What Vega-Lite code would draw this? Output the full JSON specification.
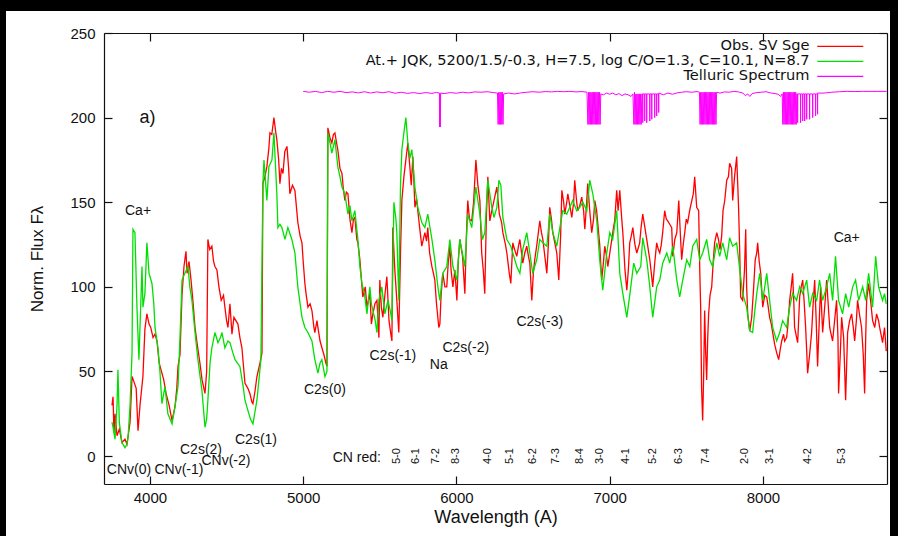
{
  "$schema": "https://vega.github.io/schema/vega-lite/v6.json",
  "width": 884,
  "height": 525,
  "autosize": "none",
  "padding": {"left": 6, "top": 11, "right": 8, "bottom": 0},
  "background": "black",
  "config": {
    "font": "Liberation Sans",
    "view": {"fill": "white", "stroke": null}
  },
  "datasets": {
    "obs": [
      {"w":3752,"f":30},{"w":3759,"f":35},{"w":3765,"f":14},{"w":3772,"f":25},{"w":3785,"f":12},{"w":3800,"f":16},{"w":3817,"f":8},{"w":3837,"f":10},{"w":3850,"f":7},{"w":3870,"f":20},{"w":3883,"f":47},{"w":3895,"f":44},{"w":3910,"f":40},{"w":3922,"f":15},{"w":3935,"f":30},{"w":3954,"f":47},{"w":3967,"f":75},{"w":3980,"f":84},{"w":3994,"f":78},{"w":4005,"f":76},{"w":4020,"f":70},{"w":4033,"f":72},{"w":4046,"f":68},{"w":4060,"f":55},{"w":4078,"f":49},{"w":4090,"f":45},{"w":4105,"f":37},{"w":4125,"f":30},{"w":4144,"f":21},{"w":4163,"f":29},{"w":4175,"f":40},{"w":4183,"f":53},{"w":4196,"f":60},{"w":4209,"f":95},{"w":4222,"f":112},{"w":4235,"f":121},{"w":4242,"f":108},{"w":4255,"f":115},{"w":4268,"f":104},{"w":4280,"f":92},{"w":4294,"f":76},{"w":4310,"f":65},{"w":4326,"f":55},{"w":4340,"f":45},{"w":4359,"f":37},{"w":4370,"f":50},{"w":4378,"f":128},{"w":4390,"f":122},{"w":4404,"f":124},{"w":4415,"f":115},{"w":4424,"f":112},{"w":4437,"f":110},{"w":4450,"f":100},{"w":4465,"f":92},{"w":4480,"f":95},{"w":4489,"f":88},{"w":4500,"f":80},{"w":4509,"f":76},{"w":4522,"f":90},{"w":4535,"f":72},{"w":4548,"f":82},{"w":4574,"f":78},{"w":4587,"f":70},{"w":4600,"f":64},{"w":4620,"f":43},{"w":4639,"f":40},{"w":4652,"f":37},{"w":4665,"f":32},{"w":4672,"f":31},{"w":4685,"f":38},{"w":4698,"f":47},{"w":4718,"f":55},{"w":4731,"f":61},
      {"w":4737,"f":161},{"w":4750,"f":165},{"w":4763,"f":171},{"w":4776,"f":182},{"w":4783,"f":191},{"w":4795,"f":190},{"w":4809,"f":200},{"w":4820,"f":192},{"w":4828,"f":187},{"w":4840,"f":175},{"w":4848,"f":161},{"w":4858,"f":170},{"w":4868,"f":167},{"w":4880,"f":180},{"w":4894,"f":183},{"w":4905,"f":170},{"w":4913,"f":155},{"w":4930,"f":160},{"w":4946,"f":157},{"w":4955,"f":148},{"w":4965,"f":138},{"w":4980,"f":130},{"w":4992,"f":126},{"w":5000,"f":115},{"w":5011,"f":102},{"w":5020,"f":95},{"w":5031,"f":88},{"w":5045,"f":90},{"w":5057,"f":86},{"w":5070,"f":76},{"w":5076,"f":73},{"w":5090,"f":80},{"w":5096,"f":76},{"w":5110,"f":68},{"w":5122,"f":64},{"w":5135,"f":60},{"w":5148,"f":55},{"w":5155,"f":53},
      {"w":5161,"f":194},{"w":5175,"f":188},{"w":5187,"f":185},{"w":5197,"f":190},{"w":5207,"f":191},{"w":5218,"f":185},{"w":5226,"f":181},{"w":5240,"f":170},{"w":5253,"f":167},{"w":5262,"f":158},{"w":5272,"f":151},{"w":5282,"f":156},{"w":5292,"f":155},{"w":5305,"f":140},{"w":5318,"f":132},{"w":5328,"f":140},{"w":5337,"f":141},{"w":5350,"f":128},{"w":5357,"f":126},{"w":5370,"f":116},{"w":5389,"f":94},{"w":5405,"f":100},{"w":5416,"f":88},{"w":5435,"f":96},{"w":5445,"f":78},{"w":5455,"f":84},{"w":5468,"f":90},{"w":5481,"f":92},{"w":5494,"f":70},{"w":5500,"f":104},{"w":5510,"f":88},{"w":5520,"f":82},{"w":5533,"f":95},{"w":5546,"f":106},{"w":5560,"f":80},{"w":5572,"f":72},{"w":5579,"f":68},{"w":5585,"f":135},{"w":5598,"f":110},{"w":5611,"f":92},{"w":5624,"f":73},{"w":5635,"f":120},{"w":5644,"f":151},{"w":5657,"f":165},{"w":5670,"f":175},{"w":5683,"f":185},{"w":5696,"f":171},{"w":5705,"f":160},{"w":5716,"f":177},{"w":5729,"f":147},{"w":5740,"f":152},{"w":5748,"f":145},{"w":5760,"f":135},{"w":5774,"f":124},{"w":5784,"f":128},{"w":5794,"f":132},{"w":5805,"f":127},{"w":5813,"f":135},{"w":5825,"f":120},{"w":5840,"f":112},{"w":5850,"f":108},{"w":5859,"f":104},{"w":5870,"f":90},{"w":5885,"f":76},{"w":5892,"f":78},{"w":5900,"f":95},{"w":5911,"f":108},{"w":5925,"f":100},{"w":5937,"f":100},{"w":5947,"f":115},{"w":5957,"f":124},{"w":5965,"f":110},{"w":5977,"f":100},{"w":5990,"f":110},{"w":6003,"f":92},{"w":6012,"f":115},{"w":6022,"f":128},{"w":6040,"f":118},{"w":6055,"f":96},{"w":6065,"f":130},{"w":6074,"f":151},{"w":6085,"f":140},{"w":6100,"f":139},{"w":6112,"f":150},{"w":6127,"f":175},{"w":6140,"f":160},{"w":6153,"f":151},{"w":6165,"f":120},{"w":6175,"f":110},{"w":6185,"f":96},{"w":6195,"f":140},{"w":6205,"f":165},{"w":6218,"f":139},{"w":6231,"f":145},{"w":6245,"f":151},{"w":6264,"f":159},{"w":6280,"f":143},{"w":6295,"f":138},{"w":6303,"f":132},{"w":6320,"f":125},{"w":6329,"f":120},{"w":6345,"f":108},{"w":6355,"f":102},{"w":6368,"f":126},{"w":6380,"f":122},{"w":6394,"f":118},{"w":6405,"f":124},{"w":6414,"f":128},{"w":6425,"f":120},{"w":6433,"f":114},{"w":6446,"f":120},{"w":6459,"f":124},{"w":6470,"f":118},{"w":6479,"f":114},{"w":6492,"f":92},{"w":6502,"f":108},{"w":6511,"f":116},{"w":6525,"f":125},{"w":6544,"f":139},{"w":6555,"f":132},{"w":6564,"f":128},{"w":6577,"f":118},{"w":6590,"f":108},{"w":6600,"f":125},{"w":6609,"f":147},{"w":6620,"f":140},{"w":6629,"f":132},{"w":6642,"f":126},{"w":6655,"f":120},{"w":6668,"f":104},{"w":6680,"f":130},{"w":6688,"f":157},{"w":6700,"f":150},{"w":6707,"f":143},{"w":6720,"f":150},{"w":6727,"f":155},{"w":6740,"f":148},{"w":6753,"f":141},{"w":6765,"f":150},{"w":6772,"f":163},{"w":6785,"f":150},{"w":6792,"f":145},{"w":6805,"f":148},{"w":6818,"f":153},{"w":6830,"f":145},{"w":6838,"f":134},{"w":6850,"f":150},{"w":6857,"f":161},{"w":6870,"f":145},{"w":6883,"f":132},{"w":6895,"f":140},{"w":6903,"f":151},{"w":6915,"f":145},{"w":6922,"f":138},{"w":6935,"f":125},{"w":6948,"f":104},{"w":6960,"f":115},{"w":6968,"f":124},{"w":6980,"f":118},{"w":6988,"f":112},{"w":7001,"f":120},{"w":7014,"f":128},{"w":7025,"f":135},{"w":7033,"f":139},{"w":7046,"f":157},{"w":7055,"f":145},{"w":7066,"f":157},{"w":7079,"f":140},{"w":7086,"f":132},{"w":7100,"f":110},{"w":7112,"f":98},{"w":7122,"f":110},{"w":7131,"f":126},{"w":7141,"f":130},{"w":7151,"f":135},{"w":7165,"f":125},{"w":7177,"f":120},{"w":7190,"f":124},{"w":7196,"f":126},{"w":7205,"f":135},{"w":7216,"f":143},{"w":7230,"f":135},{"w":7242,"f":128},{"w":7252,"f":122},{"w":7262,"f":116},{"w":7272,"f":108},{"w":7281,"f":100},{"w":7295,"f":115},{"w":7307,"f":126},{"w":7318,"f":122},{"w":7327,"f":120},{"w":7337,"f":125},{"w":7346,"f":132},{"w":7359,"f":145},{"w":7370,"f":140},{"w":7379,"f":139},{"w":7392,"f":137},{"w":7405,"f":135},{"w":7412,"f":118},{"w":7425,"f":128},{"w":7438,"f":132},{"w":7451,"f":151},{"w":7462,"f":130},{"w":7470,"f":116},{"w":7480,"f":125},{"w":7490,"f":132},{"w":7500,"f":140},{"w":7509,"f":138},{"w":7522,"f":145},{"w":7536,"f":151},{"w":7546,"f":155},{"w":7555,"f":165},{"w":7568,"f":147},{"w":7581,"f":145},{"w":7588,"f":110},{"w":7594,"f":88},{"w":7600,"f":40},{"w":7607,"f":21},{"w":7614,"f":50},{"w":7620,"f":86},{"w":7627,"f":60},{"w":7633,"f":45},{"w":7640,"f":70},{"w":7646,"f":84},{"w":7655,"f":95},{"w":7666,"f":100},{"w":7676,"f":115},{"w":7685,"f":126},{"w":7699,"f":132},{"w":7710,"f":128},{"w":7720,"f":122},{"w":7731,"f":130},{"w":7740,"f":145},{"w":7751,"f":151},{"w":7764,"f":163},{"w":7775,"f":165},{"w":7783,"f":173},{"w":7796,"f":170},{"w":7803,"f":151},{"w":7815,"f":165},{"w":7829,"f":177},{"w":7836,"f":160},{"w":7842,"f":145},{"w":7849,"f":120},{"w":7855,"f":94},{"w":7868,"f":92},{"w":7880,"f":110},{"w":7888,"f":134},{"w":7894,"f":100},{"w":7901,"f":84},{"w":7914,"f":74},{"w":7927,"f":82},{"w":7940,"f":100},{"w":7950,"f":116},{"w":7960,"f":120},{"w":7966,"f":126},{"w":7976,"f":115},{"w":7986,"f":108},{"w":7999,"f":88},{"w":8012,"f":95},{"w":8025,"f":94},{"w":8035,"f":88},{"w":8044,"f":82},{"w":8055,"f":78},{"w":8064,"f":73},{"w":8077,"f":66},{"w":8090,"f":61},{"w":8103,"f":57},{"w":8115,"f":64},{"w":8123,"f":68},{"w":8135,"f":72},{"w":8142,"f":68},{"w":8155,"f":70},{"w":8162,"f":76},{"w":8175,"f":92},{"w":8185,"f":100},{"w":8194,"f":108},{"w":8203,"f":88},{"w":8207,"f":76},{"w":8220,"f":70},{"w":8227,"f":67},{"w":8240,"f":94},{"w":8250,"f":100},{"w":8260,"f":104},{"w":8270,"f":90},{"w":8279,"f":76},{"w":8286,"f":62},{"w":8292,"f":49},{"w":8305,"f":60},{"w":8318,"f":73},{"w":8328,"f":90},{"w":8338,"f":104},{"w":8348,"f":80},{"w":8357,"f":53},{"w":8370,"f":85},{"w":8377,"f":100},{"w":8390,"f":73},{"w":8405,"f":90},{"w":8416,"f":104},{"w":8426,"f":90},{"w":8436,"f":76},{"w":8445,"f":72},{"w":8455,"f":68},{"w":8468,"f":80},{"w":8481,"f":92},{"w":8490,"f":70},{"w":8494,"f":37},{"w":8505,"f":60},{"w":8514,"f":82},{"w":8527,"f":70},{"w":8540,"f":33},{"w":8553,"f":73},{"w":8566,"f":80},{"w":8579,"f":84},{"w":8590,"f":76},{"w":8599,"f":68},{"w":8610,"f":80},{"w":8618,"f":92},{"w":8630,"f":84},{"w":8644,"f":76},{"w":8655,"f":60},{"w":8664,"f":37},{"w":8671,"f":70},{"w":8677,"f":92},{"w":8690,"f":102},{"w":8705,"f":90},{"w":8716,"f":80},{"w":8730,"f":76},{"w":8742,"f":84},{"w":8755,"f":80},{"w":8762,"f":76},{"w":8775,"f":70},{"w":8781,"f":67},{"w":8794,"f":76},{"w":8805,"f":62}
    ],
    "model": [
      {"w":3752,"f":20},{"w":3759,"f":17},{"w":3772,"f":10},{"w":3785,"f":30},{"w":3791,"f":51},{"w":3800,"f":20},{"w":3817,"f":8},{"w":3837,"f":5},{"w":3850,"f":7},{"w":3857,"f":11},{"w":3870,"f":30},{"w":3883,"f":61},{"w":3889,"f":134},{"w":3902,"f":132},{"w":3915,"f":88},{"w":3928,"f":57},{"w":3948,"f":112},{"w":3954,"f":88},{"w":3967,"f":96},{"w":3980,"f":126},{"w":3994,"f":108},{"w":4013,"f":102},{"w":4025,"f":90},{"w":4033,"f":76},{"w":4052,"f":64},{"w":4065,"f":50},{"w":4078,"f":31},{"w":4098,"f":41},{"w":4117,"f":25},{"w":4144,"f":19},{"w":4163,"f":29},{"w":4183,"f":41},{"w":4196,"f":70},{"w":4209,"f":104},{"w":4228,"f":108},{"w":4248,"f":112},{"w":4260,"f":100},{"w":4274,"f":92},{"w":4294,"f":73},{"w":4313,"f":57},{"w":4330,"f":45},{"w":4339,"f":39},{"w":4359,"f":17},{"w":4370,"f":22},{"w":4378,"f":33},{"w":4392,"f":55},{"w":4404,"f":64},{"w":4424,"f":73},{"w":4444,"f":67},{"w":4460,"f":70},{"w":4470,"f":73},{"w":4489,"f":64},{"w":4509,"f":68},{"w":4522,"f":67},{"w":4541,"f":61},{"w":4555,"f":57},{"w":4587,"f":53},{"w":4610,"f":40},{"w":4620,"f":33},{"w":4639,"f":27},{"w":4655,"f":22},{"w":4672,"f":19},{"w":4698,"f":33},{"w":4724,"f":57},
      {"w":4737,"f":161},{"w":4744,"f":175},{"w":4763,"f":151},{"w":4776,"f":171},{"w":4796,"f":175},{"w":4809,"f":191},{"w":4828,"f":155},{"w":4835,"f":135},{"w":4848,"f":137},{"w":4861,"f":135},{"w":4881,"f":128},{"w":4900,"f":135},{"w":4926,"f":128},{"w":4946,"f":120},{"w":4965,"f":100},{"w":4992,"f":82},{"w":5011,"f":76},{"w":5031,"f":73},{"w":5057,"f":68},{"w":5076,"f":57},{"w":5096,"f":49},{"w":5110,"f":55},{"w":5122,"f":57},{"w":5142,"f":47},{"w":5155,"f":50},
      {"w":5161,"f":191},{"w":5175,"f":185},{"w":5187,"f":179},{"w":5207,"f":187},{"w":5226,"f":171},{"w":5240,"f":165},{"w":5253,"f":159},{"w":5272,"f":155},{"w":5292,"f":143},{"w":5305,"f":148},{"w":5318,"f":139},{"w":5337,"f":145},{"w":5357,"f":128},{"w":5370,"f":112},{"w":5383,"f":102},{"w":5400,"f":96},{"w":5416,"f":84},{"w":5435,"f":100},{"w":5445,"f":90},{"w":5455,"f":86},{"w":5470,"f":80},{"w":5481,"f":73},{"w":5494,"f":92},{"w":5513,"f":100},{"w":5533,"f":84},{"w":5553,"f":92},{"w":5570,"f":85},{"w":5579,"f":80},{"w":5592,"f":150},{"w":5605,"f":140},{"w":5611,"f":132},{"w":5624,"f":92},{"w":5635,"f":160},{"w":5644,"f":181},{"w":5657,"f":191},{"w":5670,"f":200},{"w":5683,"f":185},{"w":5696,"f":176},{"w":5709,"f":181},{"w":5729,"f":159},{"w":5748,"f":147},{"w":5774,"f":138},{"w":5794,"f":135},{"w":5813,"f":143},{"w":5840,"f":128},{"w":5859,"f":116},{"w":5879,"f":100},{"w":5892,"f":92},{"w":5911,"f":108},{"w":5937,"f":112},{"w":5957,"f":128},{"w":5977,"f":112},{"w":6003,"f":104},{"w":6022,"f":128},{"w":6055,"f":112},{"w":6074,"f":143},{"w":6100,"f":135},{"w":6127,"f":159},{"w":6153,"f":143},{"w":6170,"f":128},{"w":6185,"f":132},{"w":6205,"f":163},{"w":6231,"f":147},{"w":6245,"f":141},{"w":6264,"f":147},{"w":6277,"f":163},{"w":6290,"f":160},{"w":6303,"f":141},{"w":6329,"f":128},{"w":6355,"f":124},{"w":6368,"f":120},{"w":6394,"f":112},{"w":6414,"f":108},{"w":6433,"f":122},{"w":6459,"f":132},{"w":6479,"f":120},{"w":6498,"f":108},{"w":6524,"f":116},{"w":6544,"f":128},{"w":6564,"f":126},{"w":6590,"f":124},{"w":6609,"f":143},{"w":6629,"f":132},{"w":6655,"f":124},{"w":6675,"f":135},{"w":6694,"f":145},{"w":6720,"f":143},{"w":6740,"f":147},{"w":6759,"f":151},{"w":6785,"f":145},{"w":6805,"f":147},{"w":6825,"f":150},{"w":6851,"f":145},{"w":6870,"f":163},{"w":6890,"f":155},{"w":6916,"f":139},{"w":6935,"f":116},{"w":6955,"f":98},{"w":6981,"f":120},{"w":7001,"f":132},{"w":7020,"f":128},{"w":7046,"f":145},{"w":7066,"f":108},{"w":7086,"f":96},{"w":7112,"f":82},{"w":7138,"f":100},{"w":7157,"f":114},{"w":7177,"f":108},{"w":7203,"f":112},{"w":7216,"f":129},{"w":7242,"f":116},{"w":7262,"f":100},{"w":7281,"f":82},{"w":7307,"f":100},{"w":7327,"f":104},{"w":7346,"f":114},{"w":7373,"f":120},{"w":7392,"f":114},{"w":7412,"f":124},{"w":7438,"f":104},{"w":7457,"f":94},{"w":7477,"f":104},{"w":7503,"f":116},{"w":7523,"f":112},{"w":7542,"f":124},{"w":7568,"f":128},{"w":7588,"f":116},{"w":7607,"f":120},{"w":7633,"f":128},{"w":7653,"f":116},{"w":7672,"f":112},{"w":7699,"f":126},{"w":7718,"f":118},{"w":7738,"f":126},{"w":7764,"f":116},{"w":7783,"f":129},{"w":7803,"f":124},{"w":7829,"f":126},{"w":7849,"f":110},{"w":7868,"f":96},{"w":7894,"f":88},{"w":7914,"f":74},{"w":7933,"f":73},{"w":7945,"f":84},{"w":7960,"f":96},{"w":7979,"f":108},{"w":7999,"f":92},{"w":8025,"f":108},{"w":8044,"f":92},{"w":8064,"f":76},{"w":8090,"f":68},{"w":8110,"f":73},{"w":8129,"f":80},{"w":8155,"f":76},{"w":8175,"f":88},{"w":8194,"f":96},{"w":8220,"f":92},{"w":8240,"f":100},{"w":8260,"f":96},{"w":8286,"f":104},{"w":8305,"f":88},{"w":8325,"f":96},{"w":8351,"f":92},{"w":8370,"f":104},{"w":8390,"f":92},{"w":8416,"f":100},{"w":8436,"f":108},{"w":8455,"f":92},{"w":8474,"f":118},{"w":8494,"f":92},{"w":8520,"f":84},{"w":8540,"f":96},{"w":8560,"f":88},{"w":8586,"f":100},{"w":8605,"f":104},{"w":8625,"f":92},{"w":8651,"f":100},{"w":8671,"f":92},{"w":8690,"f":108},{"w":8716,"f":88},{"w":8736,"f":118},{"w":8755,"f":100},{"w":8781,"f":92},{"w":8794,"f":96},{"w":8805,"f":90}
    ],
    "telluric": [
      {"w":5000,"f":215.5},{"w":5040,"f":215},{"w":5080,"f":215.5},{"w":5120,"f":214.8},{"w":5160,"f":215.5},{"w":5200,"f":215},{"w":5240,"f":215.5},{"w":5280,"f":214.8},{"w":5320,"f":215.2},{"w":5360,"f":214.6},{"w":5400,"f":215.3},{"w":5440,"f":214.5},{"w":5480,"f":215.2},{"w":5520,"f":214.7},{"w":5560,"f":215.3},{"w":5600,"f":214.4},{"w":5640,"f":215},{"w":5680,"f":214.3},{"w":5720,"f":214.8},{"w":5760,"f":214.2},{"w":5800,"f":214.8},{"w":5840,"f":214.3},{"w":5870,"f":214.9},{"w":5889,"f":214.5},{"w":5890,"f":194.5},{"w":5892,"f":214},{"w":5895,"f":194.5},{"w":5897,"f":214.5},{"w":5920,"f":214.2},{"w":5960,"f":214.8},{"w":6000,"f":214.4},{"w":6040,"f":215},{"w":6080,"f":214.6},{"w":6120,"f":215.2},{"w":6160,"f":215},{"w":6200,"f":215.3},{"w":6240,"f":214.8},{"w":6268,"f":214.5},
      {"w":6272,"f":196},{"w":6276,"f":215},{"w":6280,"f":196},{"w":6284,"f":215},{"w":6288,"f":196},{"w":6292,"f":215},{"w":6296,"f":196},{"w":6300,"f":215},{"w":6304,"f":196},{"w":6308,"f":214},
      {"w":6340,"f":214.5},{"w":6380,"f":214},{"w":6420,"f":214.6},{"w":6460,"f":215},{"w":6500,"f":215.3},{"w":6540,"f":215},{"w":6580,"f":215.4},{"w":6620,"f":215.2},{"w":6660,"f":215.5},{"w":6700,"f":215.3},{"w":6740,"f":215.5},{"w":6780,"f":215.2},{"w":6820,"f":215.4},{"w":6852,"f":215},
      {"w":6858,"f":196},{"w":6862,"f":215},{"w":6866,"f":196},{"w":6870,"f":215},{"w":6874,"f":196},{"w":6878,"f":215},{"w":6882,"f":196},{"w":6886,"f":215},{"w":6890,"f":196},{"w":6894,"f":215},{"w":6898,"f":196},{"w":6902,"f":215},{"w":6906,"f":196},{"w":6910,"f":215},{"w":6914,"f":196},{"w":6918,"f":215},{"w":6922,"f":196},{"w":6926,"f":215},{"w":6930,"f":196},{"w":6934,"f":215},{"w":6938,"f":196},{"w":6942,"f":214},
      {"w":6960,"f":213.5},{"w":6980,"f":214.5},{"w":7000,"f":213.8},{"w":7020,"f":214.5},{"w":7040,"f":213.5},{"w":7060,"f":214.2},{"w":7080,"f":213},{"w":7100,"f":214},{"w":7120,"f":213.5},{"w":7140,"f":212.5},{"w":7152,"f":214},
      {"w":7158,"f":196},{"w":7162,"f":215},{"w":7166,"f":196},{"w":7170,"f":214},{"w":7174,"f":196},{"w":7178,"f":214},{"w":7182,"f":196},{"w":7186,"f":214},{"w":7190,"f":196},{"w":7194,"f":214},{"w":7198,"f":196},{"w":7202,"f":214},{"w":7206,"f":196},{"w":7210,"f":214},
      {"w":7215,"f":214},{"w":7216,"f":197},{"w":7217,"f":214},{"w":7228,"f":214},{"w":7229,"f":198},{"w":7230,"f":214},{"w":7241,"f":214},{"w":7242,"f":197},{"w":7243,"f":214},{"w":7261,"f":214},{"w":7262,"f":198},{"w":7263,"f":214},{"w":7274,"f":214},{"w":7275,"f":199},{"w":7276,"f":214},{"w":7293,"f":214},{"w":7294,"f":200},{"w":7295,"f":214},{"w":7306,"f":214},{"w":7307,"f":201},{"w":7308,"f":214},{"w":7319,"f":214},{"w":7320,"f":203},{"w":7321,"f":214.5},
      {"w":7350,"f":213.5},{"w":7380,"f":214.5},{"w":7410,"f":213.8},{"w":7440,"f":214.6},{"w":7470,"f":215},{"w":7500,"f":215.3},{"w":7540,"f":215},{"w":7570,"f":215.4},{"w":7586,"f":215},
      {"w":7590,"f":196},{"w":7594,"f":215},{"w":7598,"f":196},{"w":7602,"f":215},{"w":7606,"f":196},{"w":7610,"f":215},{"w":7614,"f":196},{"w":7618,"f":215},{"w":7622,"f":196},{"w":7626,"f":215},{"w":7630,"f":196},{"w":7634,"f":215},{"w":7638,"f":196},{"w":7642,"f":215},{"w":7646,"f":196},{"w":7650,"f":215},{"w":7654,"f":196},{"w":7658,"f":215},{"w":7662,"f":196},{"w":7666,"f":215},{"w":7670,"f":196},{"w":7674,"f":215},{"w":7678,"f":196},{"w":7682,"f":215},{"w":7686,"f":196},{"w":7690,"f":215},{"w":7694,"f":196},{"w":7698,"f":215},
      {"w":7720,"f":214.5},{"w":7750,"f":215.2},{"w":7780,"f":215},{"w":7810,"f":215.5},{"w":7840,"f":215.2},{"w":7870,"f":214.5},{"w":7885,"f":213},{"w":7900,"f":214},{"w":7915,"f":212.5},{"w":7930,"f":214.2},{"w":7960,"f":214.8},{"w":7990,"f":215},{"w":8020,"f":215.3},{"w":8050,"f":214.6},{"w":8080,"f":214.2},{"w":8100,"f":213.8},{"w":8115,"f":212.5},{"w":8126,"f":214},
      {"w":8130,"f":196},{"w":8134,"f":215},{"w":8138,"f":196},{"w":8142,"f":215},{"w":8146,"f":196},{"w":8150,"f":215},{"w":8154,"f":196},{"w":8158,"f":215},{"w":8162,"f":196},{"w":8166,"f":215},{"w":8170,"f":196},{"w":8174,"f":215},{"w":8178,"f":196},{"w":8182,"f":215},{"w":8186,"f":196},{"w":8190,"f":215},{"w":8194,"f":196},{"w":8198,"f":215},{"w":8202,"f":196},{"w":8206,"f":215},{"w":8210,"f":196},{"w":8214,"f":215},{"w":8218,"f":196},{"w":8221,"f":214},
      {"w":8226,"f":214},{"w":8227,"f":197},{"w":8228,"f":214},{"w":8245,"f":214},{"w":8246,"f":197},{"w":8247,"f":214},{"w":8259,"f":214},{"w":8260,"f":198},{"w":8261,"f":214},{"w":8272,"f":214},{"w":8273,"f":198},{"w":8274,"f":214},{"w":8285,"f":214},{"w":8286,"f":199},{"w":8287,"f":214},{"w":8304,"f":214},{"w":8305,"f":199},{"w":8306,"f":214},{"w":8324,"f":214},{"w":8325,"f":200},{"w":8326,"f":214},{"w":8343,"f":214},{"w":8344,"f":201},{"w":8345,"f":214},{"w":8356,"f":214},{"w":8357,"f":202},{"w":8358,"f":214.5},
      {"w":8400,"f":214.5},{"w":8450,"f":215},{"w":8500,"f":215.3},{"w":8550,"f":215.5},{"w":8600,"f":215.4},{"w":8650,"f":215.5},{"w":8700,"f":215.5},{"w":8750,"f":215.5},{"w":8808,"f":215.5}
    ],
    "notes": [
      {"t":"Ca+","w":3922,"f":145},
      {"t":"Ca+","w":8547,"f":129},
      {"t":"C2s(2)","w":4333,"f":3.5},
      {"t":"C2s(1)","w":4692,"f":9.5},
      {"t":"CNv(0)","w":3863,"f":-8.3},
      {"t":"CNv(-1)","w":4189,"f":-8.3},
      {"t":"CNv(-2)","w":4496,"f":-3},
      {"t":"C2s(0)","w":5142,"f":39},
      {"t":"C2s(-1)","w":5585,"f":59},
      {"t":"Na","w":5885,"f":54},
      {"t":"C2s(-2)","w":6061,"f":64},
      {"t":"C2s(-3)","w":6544,"f":79},
      {"t":"CN red:","w":5350,"f":-1}
    ],
    "panel": [{"t":"a)","w":3984,"f":200}],
    "bands": [
      {"t":"5-0","w":5611},{"t":"6-1","w":5735},{"t":"7-2","w":5866},{"t":"8-3","w":5996},
      {"t":"4-0","w":6205},{"t":"5-1","w":6348},{"t":"6-2","w":6498},{"t":"7-3","w":6648},{"t":"8-4","w":6805},
      {"t":"3-0","w":6935},{"t":"4-1","w":7105},{"t":"5-2","w":7281},{"t":"6-3","w":7451},{"t":"7-4","w":7627},
      {"t":"2-0","w":7881},{"t":"3-1","w":8044},{"t":"4-2","w":8292},{"t":"5-3","w":8514}
    ]
  },
  "resolve": {"axis": {"x": "independent", "y": "independent"}},
  "layer": [
    {
      "data": {"name": "obs"},
      "mark": {"type": "line", "strokeWidth": 1.3, "clip": true},
      "encoding": {
        "x": {
          "field": "w", "type": "quantitative",
          "scale": {"domain": [3700, 8810], "range": [98, 881], "nice": false, "zero": false},
          "axis": {
            "orient": "bottom", "offset": -52, "values": [4000, 5000, 6000, 7000, 8000], "format": "d",
            "grid": false, "domain": true, "domainColor": "#111", "domainWidth": 1.2,
            "tickSize": -8, "tickColor": "#111", "tickWidth": 1.2,
            "labelPadding": 14, "labelFontSize": 15, "labelColor": "#111",
            "title": "Wavelength (A)", "titleFontSize": 18, "titleFontWeight": "normal",
            "titleColor": "#111", "titlePadding": 3
          }
        },
        "y": {
          "field": "f", "type": "quantitative",
          "scale": {"domain": [-16.5, 250], "range": [473, 22], "nice": false, "zero": false},
          "axis": {
            "orient": "left", "offset": -98, "values": [0, 50, 100, 150, 200, 250],
            "grid": false, "domain": true, "domainColor": "#111", "domainWidth": 1.2,
            "tickSize": -8, "tickColor": "#111", "tickWidth": 1.2,
            "labelPadding": 17, "labelFontSize": 15, "labelColor": "#111",
            "title": "Norm. Flux Fλ", "titleFontSize": 17, "titleFontWeight": "normal",
            "titleColor": "#111", "titlePadding": 23
          }
        },
        "color": {
          "datum": "Obs. SV Sge", "type": "nominal",
          "scale": {
            "domain": ["Obs. SV Sge", "At.+ JQK, 5200/1.5/-0.3, H=7.5, log C/O=1.3, C=10.1, N=8.7", "Telluric Spectrum"],
            "range": ["#ff0000", "#00e000", "#ff00ff"]
          },
          "legend": {
            "title": null, "orient": "none", "legendX": 827, "legendY": 28,
            "padding": 0, "symbolType": "M-4,0H4", "symbolSize": 132.25, "symbolStrokeWidth": 1.3,
            "symbolFillColor": "transparent",
            "labelAlign": "right", "labelOffset": -38, "labelFont": "DejaVu Sans", "labelFontSize": 14.6, "labelColor": "#111",
            "labelLimit": 0, "rowPadding": 0
          }
        }
      }
    },
    {
      "data": {"name": "model"},
      "mark": {"type": "line", "strokeWidth": 1.3, "clip": true},
      "encoding": {
        "x": {"field": "w", "type": "quantitative", "axis": null},
        "y": {"field": "f", "type": "quantitative", "axis": null},
        "color": {"datum": "At.+ JQK, 5200/1.5/-0.3, H=7.5, log C/O=1.3, C=10.1, N=8.7", "type": "nominal"}
      }
    },
    {
      "data": {"name": "telluric"},
      "mark": {"type": "line", "strokeWidth": 1, "clip": true},
      "encoding": {
        "x": {
          "field": "w", "type": "quantitative",
          "axis": {"orient": "top", "offset": -22, "values": [4000, 5000, 6000, 7000, 8000], "labels": false, "title": null,
                   "grid": false, "domain": true, "domainColor": "#111", "domainWidth": 1.2,
                   "tickSize": -8, "tickColor": "#111", "tickWidth": 1.2}
        },
        "y": {
          "field": "f", "type": "quantitative",
          "axis": {"orient": "right", "offset": -3, "values": [0, 50, 100, 150, 200, 250], "labels": false, "title": null,
                   "grid": false, "domain": true, "domainColor": "#111", "domainWidth": 1.2,
                   "tickSize": -8, "tickColor": "#111", "tickWidth": 1.2}
        },
        "color": {"datum": "Telluric Spectrum", "type": "nominal"}
      }
    },
    {
      "data": {"name": "notes"},
      "mark": {"type": "text", "fontSize": 14, "align": "center", "baseline": "middle", "color": "#111"},
      "encoding": {
        "x": {"field": "w", "type": "quantitative", "axis": null},
        "y": {"field": "f", "type": "quantitative", "axis": null},
        "text": {"field": "t"}
      }
    },
    {
      "data": {"name": "panel"},
      "mark": {"type": "text", "fontSize": 18, "align": "center", "baseline": "middle", "color": "#111"},
      "encoding": {
        "x": {"field": "w", "type": "quantitative", "axis": null},
        "y": {"field": "f", "type": "quantitative", "axis": null},
        "text": {"field": "t"}
      }
    },
    {
      "data": {"name": "bands"},
      "mark": {"type": "text", "fontSize": 11, "angle": 270, "align": "center", "baseline": "middle", "color": "#111"},
      "encoding": {
        "x": {"field": "w", "type": "quantitative", "axis": null},
        "y": {"datum": 0, "type": "quantitative", "axis": null},
        "text": {"field": "t"}
      }
    }
  ]
}
